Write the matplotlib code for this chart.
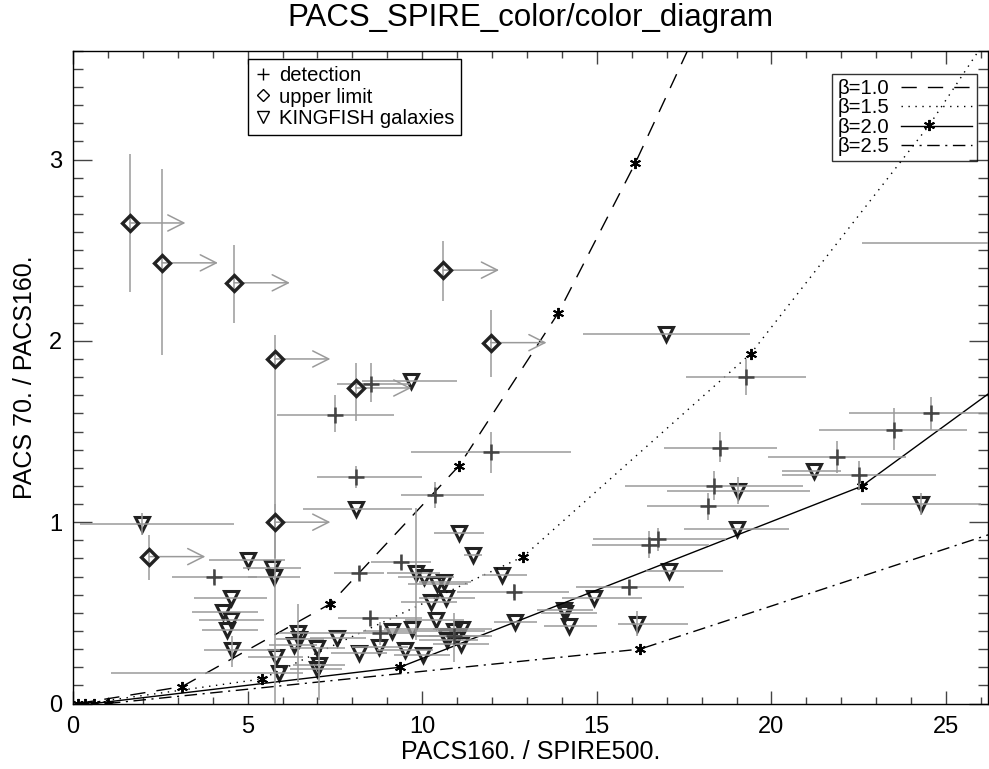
import matplotlib
matplotlib.use('Agg')
import matplotlib.pyplot as plt
from matplotlib.lines import Line2D
from matplotlib.ticker import MultipleLocator

plt.rcParams['font.family'] = ['Liberation Sans', 'DejaVu Sans']

# modified black body tracks, one point per temperature
b10_x = [0.15, 3.12, 7.37, 11.05, 13.9, 16.1, 18.2]
b10_y = [0.0, 0.093, 0.55, 1.31, 2.155, 2.98, 3.85]
b15_x = [0.35, 5.40, 12.89, 19.41, 24.52, 28.0]
b15_y = [0.0, 0.135, 0.81, 1.93, 3.19, 4.20]
b20_x = [0.6, 9.36, 22.58, 30.0]
b20_y = [0.0, 0.20, 1.198, 2.24]
b25_x = [1.0, 16.24, 30.0]
b25_y = [0.0, 0.30, 1.17]

# detections
det_x = [8.52, 7.49, 8.09, 4.03, 8.18, 9.38, 8.49, 8.78, 10.91, 12.62, 10.37, 11.96,
         19.27, 18.54, 18.35, 18.19, 16.50, 16.74, 15.91, 21.87, 22.50, 23.50, 24.57, 28.5]
det_y = [1.76, 1.59, 1.25, 0.70, 0.72, 0.78, 0.47, 0.387, 0.37, 0.616, 1.15, 1.387,
         1.80, 1.41, 1.20, 1.09, 0.873, 0.905, 0.64, 1.36, 1.26, 1.51, 1.60, 2.54]
det_xlo = [7.56, 5.84, 7.0, 2.84, 7.47, 8.52, 7.6, 7.9, 9.8, 11.0, 9.38, 9.68,
           17.55, 16.92, 15.81, 16.45, 14.85, 14.9, 14.4, 19.91, 20.29, 21.37, 22.23, 22.6]
det_xhi = [9.66, 9.19, 10.0, 5.27, 8.9, 10.24, 10.0, 9.8, 12.0, 14.2, 11.76, 14.27,
           21.0, 20.15, 20.9, 19.94, 18.2, 18.7, 17.5, 23.84, 24.7, 25.61, 26.6, 34.0]
det_ylo = [1.66, 1.50, 1.19, 0.66, 0.68, 0.74, 0.43, 0.32, 0.23, 0.58, 1.08, 1.27,
           1.70, 1.33, 1.12, 1.01, 0.80, 0.84, 0.60, 1.27, 1.18, 1.40, 1.51, 2.45]
det_yhi = [1.88, 1.70, 1.31, 0.74, 0.76, 0.82, 0.51, 0.45, 0.50, 0.66, 1.22, 1.50,
           1.90, 1.50, 1.28, 1.16, 0.95, 0.97, 0.68, 1.45, 1.34, 1.63, 1.69, 2.63]

# upper limits in PACS160/SPIRE500
ul_x = [1.62, 2.55, 4.61, 5.77, 8.09, 10.60, 11.96, 2.19, 5.77]
ul_y = [2.65, 2.43, 2.32, 1.90, 1.74, 2.39, 1.99, 0.81, 1.00]
ul_ylo = [2.27, 1.92, 2.10, 0.0, 1.56, 2.22, 1.80, 0.68, 0.80]
ul_yhi = [3.03, 2.95, 2.53, 2.03, 1.88, 2.55, 2.17, 0.93, 1.10]
ARROW_LEN = 1.6

# KINGFISH galaxies
kf_x = [16.98, 9.68, 8.09, 1.99, 11.05, 11.46, 5.00, 5.71, 5.75, 4.53, 4.30, 4.53, 4.41,
        4.56, 5.80, 5.89, 6.44, 6.46, 6.32, 6.99, 7.56, 7.04, 6.99, 8.18, 9.81, 10.05,
        10.43, 10.62, 10.24, 10.67, 10.38, 9.14, 9.71, 8.76, 9.52, 10.03, 10.67, 10.91,
        11.15, 10.72, 11.00, 11.10, 12.67, 12.29, 14.06, 14.10, 14.20, 14.92, 16.16,
        21.23, 19.05, 24.27, 19.00, 17.07]
kf_y = [2.04, 1.78, 1.07, 0.99, 0.94, 0.82, 0.79, 0.75, 0.70, 0.58, 0.506, 0.46, 0.405,
        0.295, 0.258, 0.166, 0.387, 0.354, 0.322, 0.304, 0.36, 0.21, 0.19, 0.277, 0.72, 0.70,
        0.66, 0.67, 0.56, 0.58, 0.46, 0.40, 0.41, 0.31, 0.295, 0.27, 0.37, 0.40,
        0.41, 0.35, 0.37, 0.33, 0.45, 0.71, 0.515, 0.497, 0.43, 0.58, 0.44,
        1.28, 1.17, 1.10, 0.965, 0.73]
kf_xlo = [14.6, 8.28, 6.6, 0.2, 10.33, 11.2, 3.89, 4.88, 5.0, 3.46, 3.40, 3.60, 3.70,
          3.74, 5.0, 1.1, 5.9, 5.8, 5.6, 6.2, 6.8, 6.3, 6.2, 7.4, 9.0, 9.3,
          9.6, 9.9, 9.4, 9.9, 9.5, 8.3, 8.9, 8.0, 8.7, 9.2, 9.8, 10.0,
          10.3, 9.9, 10.2, 10.3, 12.05, 11.7, 13.3, 13.4, 13.5, 14.0, 15.6,
          20.3, 17.0, 22.55, 17.5, 16.4]
kf_xhi = [19.38, 11.0, 9.7, 4.6, 11.76, 11.7, 6.08, 6.53, 6.5, 5.56, 5.30, 5.47, 5.30,
          5.94, 6.6, 6.6, 7.9, 7.2, 7.0, 7.8, 8.4, 7.8, 7.7, 9.0, 10.5, 10.9,
          11.3, 11.4, 11.0, 11.5, 11.2, 10.0, 10.5, 9.6, 10.3, 10.8, 11.5, 11.8,
          12.0, 11.6, 11.9, 11.9, 13.3, 13.0, 14.9, 15.0, 15.0, 16.3, 17.6,
          22.0, 21.1, 26.0, 20.5, 18.6]
kf_ylo = list(kf_y)
kf_yhi = list(kf_y)
kf_yrange = {3: (0.93, 1.05), 13: (0.20, 0.37), 16: (0.12, 0.55), 21: (0.02, 0.30),
             24: (0.35, 1.08), 48: (0.37, 0.51), 50: (1.10, 1.25), 51: (1.04, 1.16)}
for i, (lo, hi) in kf_yrange.items():
    kf_ylo[i], kf_yhi[i] = lo, hi

fig = plt.figure(figsize=(9.89, 7.69), dpi=100)
ax = fig.add_axes([73 / 989, 65.5 / 769, 915 / 989, 652.8 / 769])

GREY = '#9a9a9a'

# model tracks
star = (6, 2, 0)
mk = dict(marker=star, ms=8, mew=1.4, mec='k')
ax.plot(b10_x, b10_y, color='k', lw=1, dashes=(11, 8), zorder=4, **mk)
ax.plot(b15_x, b15_y, color='k', lw=1, dashes=(1, 4), zorder=4, **mk)
ax.plot(b20_x, b20_y, color='k', lw=1, ls='-', zorder=4, **mk)
ax.plot(b25_x, b25_y, color='k', lw=1, dashes=(9, 4, 1.5, 4), zorder=4, **mk)

# KINGFISH
ax.plot(kf_x, kf_y, ls='none', marker='v', ms=10, mfc='none', mec='#222', mew=2.2, zorder=3)
ax.errorbar(kf_x, kf_y,
            xerr=[[x - lo for x, lo in zip(kf_x, kf_xlo)], [hi - x for x, hi in zip(kf_x, kf_xhi)]],
            yerr=[[y - lo for y, lo in zip(kf_y, kf_ylo)], [hi - y for y, hi in zip(kf_y, kf_yhi)]],
            fmt='none', ecolor=GREY, elinewidth=1.1, capsize=0, zorder=5)

# detections
ax.errorbar(det_x, det_y,
            xerr=[[x - lo for x, lo in zip(det_x, det_xlo)], [hi - x for x, hi in zip(det_x, det_xhi)]],
            yerr=[[y - lo for y, lo in zip(det_y, det_ylo)], [hi - y for y, hi in zip(det_y, det_yhi)]],
            fmt='none', ecolor=GREY, elinewidth=1.1, capsize=0, zorder=5)
ax.plot(det_x, det_y, ls='none', marker='+', ms=12, mec='#444', mew=1.8, zorder=6)

# upper limits
ax.errorbar(ul_x, ul_y,
            yerr=[[y - lo for y, lo in zip(ul_y, ul_ylo)], [hi - y for y, hi in zip(ul_y, ul_yhi)]],
            fmt='none', ecolor=GREY, elinewidth=1.1, capsize=0, zorder=5)
for x, y in zip(ul_x, ul_y):
    ax.annotate('', xy=(x + ARROW_LEN, y), xytext=(x, y),
                arrowprops=dict(arrowstyle='->,head_length=1.15,head_width=0.58',
                                color=GREY, lw=1.1, shrinkA=0, shrinkB=0, mutation_scale=10),
                zorder=5)
ax.plot(ul_x, ul_y, ls='none', marker='D', ms=8, mfc='none', mec='#222', mew=2.4, zorder=6)

ax.set_xlim(0, 26.2)
ax.set_ylim(0, 3.6)
ax.xaxis.set_major_locator(MultipleLocator(5))
ax.xaxis.set_minor_locator(MultipleLocator(1))
ax.yaxis.set_major_locator(MultipleLocator(1))
ax.yaxis.set_minor_locator(MultipleLocator(0.1))
ax.tick_params(axis='both', which='both', direction='in', top=True, right=True,
               color='#444', width=1, labelsize=17)
ax.tick_params(axis='x', which='major', length=9.4, pad=9)
ax.tick_params(axis='x', which='minor', length=4.7)
ax.tick_params(axis='y', which='major', length=13.7, pad=8)
ax.tick_params(axis='y', which='minor', length=7.2)
for s in ax.spines.values():
    s.set_linewidth(1)

ax.text(0.5, 1.05, 'PACS_SPIRE_color/color_diagram', transform=ax.transAxes,
        ha='center', va='center', fontsize=22.5)
ax.text(0.5, -0.0743, 'PACS160. / SPIRE500.', transform=ax.transAxes,
        ha='center', va='center', fontsize=18)
ax.text(-0.0521, 0.5, 'PACS 70. / PACS160.', transform=ax.transAxes,
        ha='center', va='center', rotation=90, fontsize=18)

h1 = [Line2D([], [], ls='none', marker='+', ms=9, mec='k', mew=1),
      Line2D([], [], ls='none', marker='D', ms=6, mfc='none', mec='k', mew=1),
      Line2D([], [], ls='none', marker='v', ms=8, mfc='none', mec='k', mew=1)]
leg1 = ax.legend(h1, ['detection', 'upper limit', 'KINGFISH galaxies'],
                 loc='upper left', bbox_to_anchor=(0.1908, 0.9873), borderaxespad=0,
                 fontsize=14.6, frameon=True, fancybox=False, edgecolor='k', facecolor='white',
                 framealpha=1, handlelength=0.8, handletextpad=0.4, labelspacing=0.12,
                 borderpad=0.35)
leg1.get_frame().set_linewidth(1)
ax.add_artist(leg1)

h2 = [Line2D([], [], color='k', lw=1, dashes=(11, 8)),
      Line2D([], [], color='k', lw=1, dashes=(1, 4)),
      Line2D([], [], color='k', lw=1),
      Line2D([], [], color='k', lw=1, dashes=(9, 4, 1.5, 4))]
leg2 = ax.legend(h2, ['β=1.0', 'β=1.5', 'β=2.0', 'β=2.5'], loc='upper right',
                 bbox_to_anchor=(0.9885, 0.9645), borderaxespad=0, markerfirst=False,
                 fontsize=14.6, frameon=True, fancybox=False, edgecolor='k', facecolor='none',
                 handlelength=3.5, handletextpad=0.6, labelspacing=0.02, borderpad=0.25)
leg2.get_frame().set_linewidth(1)

fig.savefig('out.png', dpi=100)
